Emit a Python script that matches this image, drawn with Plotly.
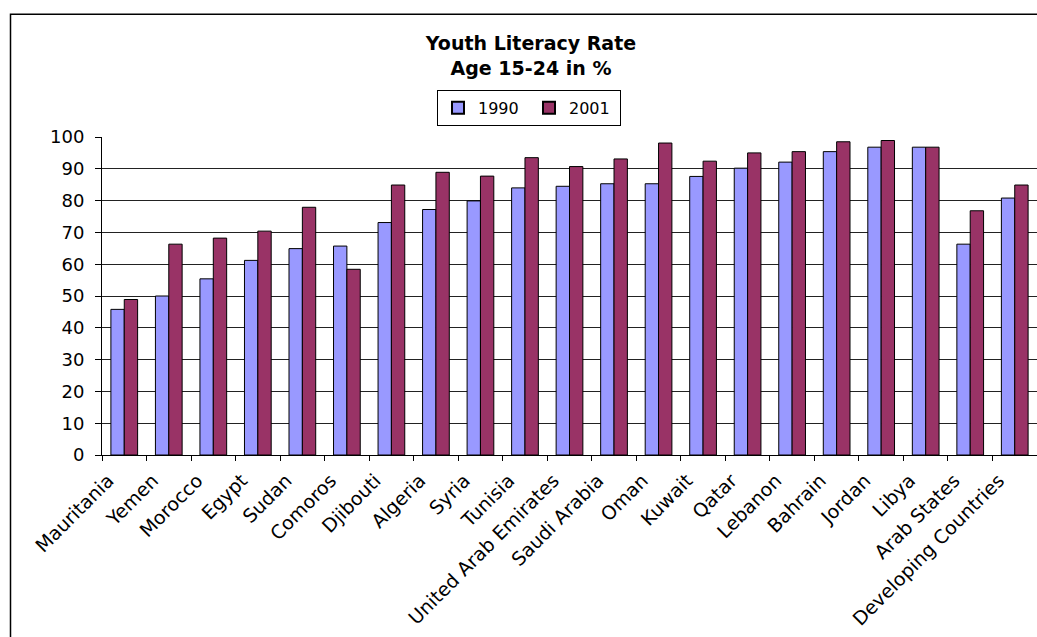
import plotly.graph_objects as go

categories = ["Mauritania", "Yemen", "Morocco", "Egypt", "Sudan", "Comoros", "Djibouti",
              "Algeria", "Syria", "Tunisia", "United Arab Emirates", "Saudi Arabia", "Oman",
              "Kuwait", "Qatar", "Lebanon", "Bahrain", "Jordan", "Libya", "Arab States",
              "Developing Countries"]
rate_1990 = [45.8, 50.0, 55.4, 61.2, 64.9, 65.7, 73.1, 77.2, 79.9, 84.0, 84.5, 85.3, 85.3,
             87.6, 90.2, 92.1, 95.4, 96.8, 96.8, 66.3, 80.8]
rate_2001 = [48.9, 66.3, 68.2, 70.4, 77.9, 58.4, 84.9, 88.9, 87.7, 93.5, 90.7, 93.1, 98.1,
             92.4, 95.0, 95.4, 98.5, 98.9, 96.8, 76.8, 84.9]
series_names = ["1990", "2001"]
y_ticks = [0, 10, 20, 30, 40, 50, 60, 70, 80, 90, 100]

FONT = "DejaVu Sans, Verdana, sans-serif"

fig = go.Figure()
fig.add_trace(go.Bar(x=categories, y=rate_1990, name=series_names[0],
                     marker=dict(color="#9999FF", line=dict(color="#000000", width=1))))
fig.add_trace(go.Bar(x=categories, y=rate_2001, name=series_names[1],
                     marker=dict(color="#993366", line=dict(color="#000000", width=1))))

fig.update_layout(
    width=1037, height=637,
    margin=dict(l=102, r=0, t=137, b=182, autoexpand=False),
    paper_bgcolor="white", plot_bgcolor="white",
    font=dict(family=FONT, size=16, color="black"),
    barmode="group", bargap=0.4, bargroupgap=0,
    title=dict(text="<b>Youth Literacy Rate<br>Age 15-24 in %</b>",
               x=531 / 1037, xanchor="center", y=1 - 50 / 637, yanchor="top",
               font=dict(family=FONT, size=19, color="black")),
    legend=dict(orientation="h", x=(529 - 102) / 935, xanchor="center",
                y=(454.5 - 90) / 317.5, yanchor="top",
                bordercolor="black", borderwidth=1, bgcolor="white",
                font=dict(family=FONT, size=16), entrywidth=46, entrywidthmode="pixels",
                itemsizing="constant"),
    showlegend=True,
)
fig.update_xaxes(type="category", tickson="boundaries", ticks="outside", ticklen=5,
                 tickcolor="black", showline=True, linecolor="black", linewidth=1,
                 showgrid=False, tickangle=-45, tickfont=dict(family=FONT, size=19),
                 ticklabelshift=-16, ticklabelstandoff=6,
                 range=[-0.5, len(categories) - 0.5])
fig.update_yaxes(range=[0, 100], tickvals=y_ticks, ticks="outside", ticklen=6,
                 tickcolor="black", showline=True, linecolor="black", linewidth=1,
                 showgrid=True, gridcolor="#222222", gridwidth=1, zeroline=False,
                 tickfont=dict(family=FONT, size=18), ticklabelstandoff=7)

# outer chart frame (extends past the visible area on right and bottom)
fig.add_shape(type="rect", xref="paper", yref="paper",
              x0=(10.5 - 102) / 935, x1=1.2, y0=-1.0, y1=(454.5 - 14.5) / 317.5,
              line=dict(color="black", width=1.5), fillcolor="rgba(0,0,0,0)", layer="below")

fig.write_html("out.html")
